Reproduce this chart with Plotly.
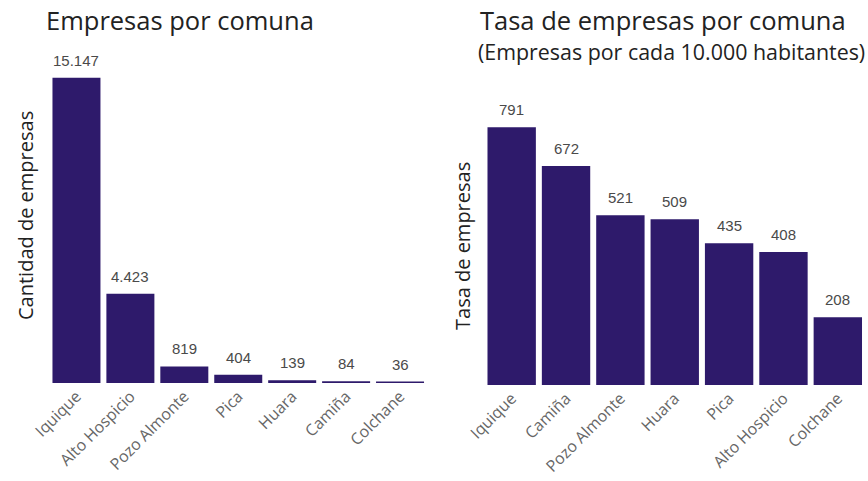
import plotly.graph_objects as go

comunas_total = ["Iquique", "Alto Hospicio", "Pozo Almonte", "Pica", "Huara", "Camiña", "Colchane"]
empresas_total = [15147, 4423, 819, 404, 139, 84, 36]

comunas_tasa = ["Iquique", "Camiña", "Pozo Almonte", "Huara", "Pica", "Alto Hospicio", "Colchane"]
tasa_empresas = [791, 672, 521, 509, 435, 408, 208]

W, H = 868, 481
BAR = "#2e1a6b"
TXT = "#4a4a4a"

def px(x):
    return x / W

def py(y):
    return 1 - y / H

def fmt(v):
    return f"{v:,}".replace(",", ".")

fig = go.Figure()
fig.add_trace(go.Bar(
    x=comunas_total, y=empresas_total, marker_color=BAR, marker_line_width=0,
    xaxis="x", yaxis="y", hoverinfo="x+y",
))
fig.add_trace(go.Bar(
    x=comunas_tasa, y=tasa_empresas, marker_color=BAR, marker_line_width=0,
    xaxis="x2", yaxis="y2", hoverinfo="x+y",
))

labels = []
for xs, ys, xr, yr in [(comunas_total, empresas_total, "x", "y"), (comunas_tasa, tasa_empresas, "x2", "y2")]:
    for c, v in zip(xs, ys):
        labels.append(dict(text=fmt(v), x=c, y=v, xref=xr, yref=yr, xanchor="center", yanchor="bottom",
                           yshift=7, showarrow=False,
                           font=dict(family="Liberation Sans, Arial", size=15, color=TXT)))

tickfont = dict(family="Open Sans", size=16, color="#666666")
fig.update_layout(
    width=W, height=H, margin=dict(l=0, r=0, t=0, b=0, autoexpand=False),
    paper_bgcolor="white", plot_bgcolor="white",
    showlegend=False, bargap=0.11,
    font=dict(family="Open Sans", color="#222222"),
    xaxis=dict(domain=[px(49.5), px(427)], anchor="y", tickangle=-45, tickfont=tickfont,
               automargin=False, showgrid=False, zeroline=False, showline=False, ticks=""),
    yaxis=dict(domain=[py(383), py(60.5)], range=[0, 16000], anchor="x", showticklabels=False,
               automargin=False, showgrid=False, zeroline=False, showline=False, ticks=""),
    xaxis2=dict(domain=[px(484.5), px(865)], anchor="y2", tickangle=-45, tickfont=tickfont,
                automargin=False, showgrid=False, zeroline=False, showline=False, ticks=""),
    yaxis2=dict(domain=[py(385), py(108)], range=[0, 850], anchor="x2", showticklabels=False,
                automargin=False, showgrid=False, zeroline=False, showline=False, ticks=""),
    annotations=labels + [
        dict(text="Empresas por comuna", x=px(44), y=py(20), xref="paper", yref="paper",
             xanchor="left", yanchor="middle", showarrow=False,
             font=dict(family="Open Sans", size=25.5, color="#222222")),
        dict(text="Tasa de empresas por comuna", x=px(478), y=py(20), xref="paper", yref="paper",
             xanchor="left", yanchor="middle", showarrow=False,
             font=dict(family="Open Sans", size=25.5, color="#222222")),
        dict(text="(Empresas por cada 10.000 habitantes)", x=px(476), y=py(51), xref="paper", yref="paper",
             xanchor="left", yanchor="middle", showarrow=False,
             font=dict(family="Open Sans", size=21.4, color="#222222")),
        dict(text="Cantidad de empresas", x=px(25), y=py(216), xref="paper", yref="paper",
             xanchor="center", yanchor="middle", showarrow=False, textangle=-90,
             font=dict(family="Open Sans", size=20, color="#222222")),
        dict(text="Tasa de empresas", x=px(462), y=py(246), xref="paper", yref="paper",
             xanchor="center", yanchor="middle", showarrow=False, textangle=-90,
             font=dict(family="Open Sans", size=20, color="#222222")),
    ],
)

fig.write_html("out.html", config={"displayModeBar": False},
               post_script="document.body.style.margin='0';document.body.style.overflow='hidden';")
